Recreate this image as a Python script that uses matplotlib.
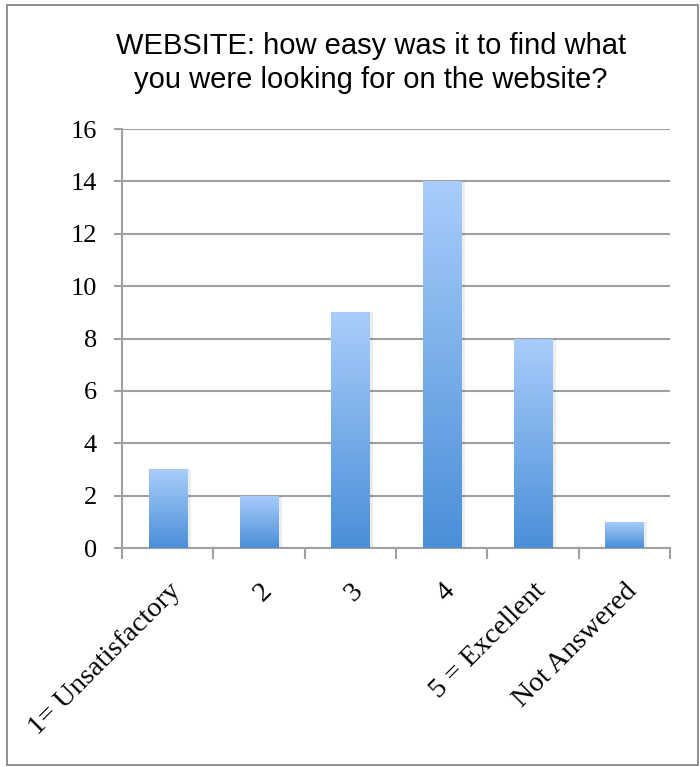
import numpy as np
import matplotlib
matplotlib.use("Agg")
import matplotlib.pyplot as plt
from matplotlib.colors import LinearSegmentedColormap
from matplotlib.patches import Rectangle

categories = ["1= Unsatisfactory", "2", "3", "4", "5 = Excellent", "Not Answered"]
counts = [3, 2, 9, 14, 8, 1]
y_ticks = [0, 2, 4, 6, 8, 10, 12, 14, 16]
title = "WEBSITE: how easy was it to find what\nyou were looking for on the website?"

fig = plt.figure(figsize=(7.0, 7.67), dpi=100)
ax = fig.add_axes([0.1743, 0.2855, 0.783, 0.5463])

# outer chart frame
fig.patches.append(Rectangle((7 / 700, 2 / 767), 691 / 700, 760 / 767,
                             transform=fig.transFigure, fill=False,
                             edgecolor="#8f8f8f", linewidth=1.4))

x = np.arange(len(categories))
bars = ax.bar(x, counts, width=0.42, color="none", edgecolor="none", zorder=3)

grad = LinearSegmentedColormap.from_list("bar", ["#4a8fd8", "#a9cdfb"])
g = np.linspace(0, 1, 256).reshape(-1, 1)
for b in bars:
    x0, w, h = b.get_x(), b.get_width(), b.get_height()
    # soft drop shadow
    ax.add_patch(Rectangle((x0 + 0.02, 0), w + 0.02, h, facecolor="#000000",
                           alpha=0.07, edgecolor="none", zorder=2))
    im = ax.imshow(g, cmap=grad, origin="lower", aspect="auto",
                   extent=(x0, x0 + w, 0, h), zorder=3)
    im.set_clip_path(b)

ax.set_xlim(-0.5, len(categories) - 0.5)
ax.set_ylim(0, 16)
ax.set_yticks(y_ticks)
ax.set_yticklabels([str(v) for v in y_ticks], family="Liberation Serif", fontsize=19)
ax.yaxis.grid(True, color="#a0a0a0", linewidth=1.5, zorder=1)
ax.set_axisbelow(True)

ax.set_xticks(x)
ax.set_xticklabels(categories, rotation=45, ha="right", rotation_mode="anchor",
                   family="Liberation Serif", fontsize=20.5)
ax.tick_params(axis="x", length=0, pad=22)
ax.tick_params(axis="y", length=6, width=1.5, color="#a0a0a0", pad=12)
# category boundary ticks
ax.set_xticks(np.arange(-0.5, len(categories), 1.0), minor=True)
ax.tick_params(axis="x", which="minor", length=8, width=1.5, color="#a0a0a0")

for s in ["top", "right"]:
    ax.spines[s].set_visible(False)
for s in ["left", "bottom"]:
    ax.spines[s].set_color("#a0a0a0")
    ax.spines[s].set_linewidth(1.5)

fig.text(0.530, 0.918, title, ha="center", va="center",
         family="Liberation Sans", fontsize=21, linespacing=1.3)

fig.savefig("out.png", dpi=100)
